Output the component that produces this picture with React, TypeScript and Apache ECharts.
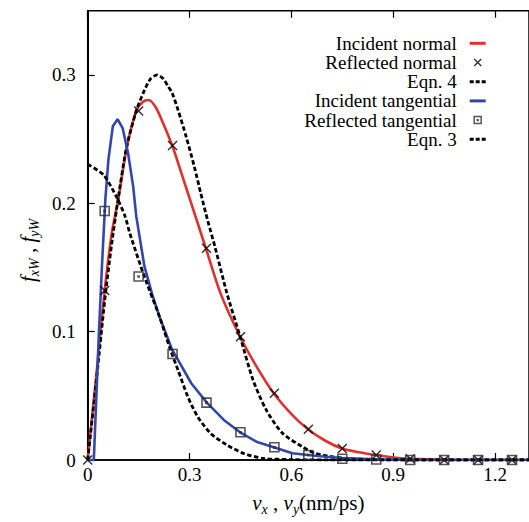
import React, { useEffect, useRef } from 'react';
import * as echarts from 'echarts';

const FONT = "'Liberation Serif', 'DejaVu Serif', serif";
const RED = '#e3302a';
const BLUE = '#3247ad';

const seriesNames = ['Incident normal', 'Reflected normal', 'Eqn. 4', 'Incident tangential', 'Reflected tangential', 'Eqn. 3'];

const X_MIN = 0;
const X_MAX = 1.3;
const X_STEP = 0.3;
const Y_MIN = 0;
const Y_MAX = 0.35;
const Y_STEP = 0.1;

// Incident normal (red line)
const incNormalX = [0, 0.028, 0.05, 0.071, 0.09, 0.114, 0.143, 0.162, 0.18, 0.2, 0.218, 0.249, 0.276, 0.305, 0.348, 0.391, 0.449, 0.497, 0.548, 0.603, 0.649, 0.7, 0.749, 0.8, 0.848, 0.9, 0.95, 1.0, 1.1, 1.2, 1.3];
const incNormalY = [0, 0.073, 0.132, 0.177, 0.203, 0.242, 0.272, 0.279, 0.2805, 0.275, 0.265, 0.245, 0.2235, 0.2, 0.165, 0.13, 0.096, 0.073, 0.052, 0.035, 0.024, 0.015, 0.009, 0.006, 0.0039, 0.002, 0.001, 0.0005, 0, 0, 0];

// Reflected normal (crosses)
const refNormalX = [0, 0.05, 0.15, 0.25, 0.35, 0.45, 0.55, 0.65, 0.75, 0.85, 0.95, 1.05, 1.15, 1.25];
const refNormalY = [0, 0.132, 0.272, 0.245, 0.165, 0.096, 0.052, 0.024, 0.009, 0.0039, 0.001, 0, 0, 0];

// Eqn. 4 (dashed)
const eqn4X = [0, 0.028, 0.05, 0.07, 0.09, 0.114, 0.143, 0.167, 0.185, 0.205, 0.223, 0.237, 0.249, 0.266, 0.29, 0.314, 0.333, 0.353, 0.375, 0.41, 0.449, 0.487, 0.526, 0.574, 0.632, 0.67, 0.75, 0.85, 0.95, 1.3];
const eqn4Y = [0, 0.068, 0.124, 0.167, 0.204, 0.243, 0.272, 0.288, 0.297, 0.3, 0.297, 0.291, 0.2858, 0.2728, 0.252, 0.2286, 0.2079, 0.187, 0.166, 0.13, 0.0961, 0.0624, 0.039, 0.0208, 0.0104, 0.0052, 0.0015, 0.0003, 0, 0];

// Incident tangential (blue line)
const incTangX = [0, 0.018, 0.033, 0.042, 0.052, 0.061, 0.074, 0.088, 0.103, 0.119, 0.134, 0.143, 0.167, 0.19, 0.211, 0.249, 0.266, 0.305, 0.351, 0.401, 0.449, 0.497, 0.548, 0.603, 0.649, 0.7, 0.75, 0.85, 0.95, 1.05, 1.3];
const incTangY = [0, 0, 0.099, 0.151, 0.203, 0.234, 0.26, 0.2655, 0.2585, 0.239, 0.213, 0.19, 0.151, 0.129, 0.112, 0.0857, 0.078, 0.0598, 0.0447, 0.0312, 0.0216, 0.0143, 0.0099, 0.0052, 0.0039, 0.0025, 0.0015, 0.0005, 0.0002, 0, 0];

// Reflected tangential (squares)
const refTangX = [0.05, 0.15, 0.25, 0.35, 0.45, 0.55, 0.65, 0.75, 0.85, 0.95, 1.05, 1.15, 1.25];
const refTangY = [0.194, 0.143, 0.0826, 0.0447, 0.0216, 0.0099, 0.0039, 0.001, 0.0004, 0, 0, 0, 0];

// Eqn. 3 (dashed)
const eqn3X = [0, 0.047, 0.085, 0.11, 0.124, 0.167, 0.211, 0.244, 0.266, 0.295, 0.324, 0.362, 0.41, 0.459, 0.516, 0.6, 0.7, 1.3];
const eqn3Y = [0.2305, 0.222, 0.205, 0.19, 0.1767, 0.1429, 0.112, 0.0857, 0.0701, 0.0493, 0.0337, 0.0208, 0.0117, 0.0052, 0.0013, 0.0003, 0, 0];

const zip = (xs: number[], ys: number[]) => xs.map((x, i) => [x, ys[i]]);

const CROSS = 'path://M0,0L10,10M10,0L0,10';
const SQUARE_DOT = 'path://M0,0H10V10H0ZM4.4,4.4H5.6V5.6H4.4Z';
const SOLID_ICON = 'path://M0,0H16V3H0Z';
const DASH_ICON = 'path://M0,0H4V3H0ZM6,0H10V3H6ZM12,0H16V3H12Z';

export default function App() {
  const ref = useRef<HTMLDivElement>(null);
  useEffect(() => {
    if (!ref.current) return;
    const chart = echarts.init(ref.current, null, { renderer: 'svg' });
    const dashed = [4.5, 2.5];
    const rich = {
      i: { fontFamily: FONT, fontSize: 21, fontStyle: 'italic', color: '#000', lineHeight: 26 },
      t: { fontFamily: FONT, fontSize: 21, color: '#000', lineHeight: 26 },
      s: { fontFamily: FONT, fontSize: 14, fontStyle: 'italic', color: '#000', lineHeight: 14, verticalAlign: 'bottom' },
    };
    const lineLegend = (name: string, icon: string) => ({ name, icon, itemStyle: { borderWidth: 0 } });
    const option: any = {
      animation: false,
      backgroundColor: '#ffffff',
      textStyle: { fontFamily: FONT },
      grid: {
        left: 87.7, right: -9.3, top: 10.8, bottom: 62,
        show: true, borderColor: '#000', borderWidth: 1.5, backgroundColor: 'transparent',
      },
      legend: {
        orient: 'vertical', align: 'right', right: 43.3, top: 33.7, padding: 0, itemGap: 0,
        itemWidth: 16, itemHeight: 7,
        textStyle: { fontFamily: FONT, fontSize: 19, color: '#000', lineHeight: 19.2, padding: [0, 8, 0, 0] },
        data: [
          lineLegend(seriesNames[0], SOLID_ICON),
          { name: seriesNames[1], itemStyle: { borderWidth: 1.5 } },
          lineLegend(seriesNames[2], DASH_ICON),
          lineLegend(seriesNames[3], SOLID_ICON),
          { name: seriesNames[4], itemStyle: { borderWidth: 1.5 } },
          lineLegend(seriesNames[5], DASH_ICON),
        ],
      },
      xAxis: [
        {
          type: 'value', min: X_MIN, max: X_MAX, interval: X_STEP, position: 'bottom',
          axisLine: { lineStyle: { color: '#000', width: 1.5 } },
          axisTick: { inside: true, length: 7, lineStyle: { color: '#000', width: 1.2 } },
          axisLabel: { color: '#000', fontSize: 19, fontFamily: FONT, margin: 5, showMaxLabel: false },
          splitLine: { show: false },
          name: '{i|v}{s|x}{t| , }{i|v}{s|y}{t|(nm/ps)}',
          nameLocation: 'middle', nameGap: 30,
          nameTextStyle: { color: '#000', fontFamily: FONT, fontSize: 20, rich },
        },
        {
          type: 'value', min: X_MIN, max: X_MAX, interval: X_STEP, position: 'top',
          axisLine: { show: false },
          axisTick: { inside: true, length: 7, lineStyle: { color: '#000', width: 1.2 } },
          axisLabel: { show: false },
          splitLine: { show: false },
        },
      ],
      yAxis: {
        type: 'value', min: Y_MIN, max: Y_MAX, interval: Y_STEP,
        axisLine: { show: true, lineStyle: { color: '#000', width: 2 } },
        axisTick: { show: true, inside: true, length: 7, lineStyle: { color: '#000', width: 1.2 } },
        axisLabel: { color: '#000', fontSize: 19, fontFamily: FONT, margin: 12, showMaxLabel: false },
        splitLine: { show: false },
        name: '{i|f}{s|xW}{t| , }{i|f}{s|yW}',
        nameLocation: 'middle', nameGap: 46,
        nameTextStyle: { color: '#000', fontFamily: FONT, fontSize: 20, rich, padding: [0, 30, 0, 0] },
      },
      series: [
        {
          name: seriesNames[0], type: 'line', data: zip(incNormalX, incNormalY), symbol: 'none',
          smooth: 0.25, lineStyle: { color: RED, width: 2.6 }, itemStyle: { color: RED },
        },
        {
          name: seriesNames[1], type: 'scatter', data: zip(refNormalX, refNormalY), symbol: CROSS, symbolSize: 9,
          itemStyle: { color: 'rgba(0,0,0,0)', borderColor: '#000', borderWidth: 1.5 }, z: 4,
        },
        {
          name: seriesNames[2], type: 'line', data: zip(eqn4X, eqn4Y), symbol: 'none',
          smooth: 0.25, lineStyle: { color: '#000', width: 2.8, type: dashed }, itemStyle: { color: '#000' },
        },
        {
          name: seriesNames[3], type: 'line', data: zip(incTangX, incTangY), symbol: 'none',
          smooth: false, lineStyle: { color: BLUE, width: 2.6 }, itemStyle: { color: BLUE },
        },
        {
          name: seriesNames[4], type: 'scatter', data: zip(refTangX, refTangY), symbol: SQUARE_DOT, symbolSize: 9,
          itemStyle: { color: 'rgba(0,0,0,0)', borderColor: '#2a2a2a', borderWidth: 1.6 }, z: 4,
        },
        {
          name: seriesNames[5], type: 'line', data: zip(eqn3X, eqn3Y), symbol: 'none',
          smooth: 0.25, lineStyle: { color: '#000', width: 2.8, type: dashed }, itemStyle: { color: '#000' },
        },
      ],
    };
    chart.setOption(option);
    return () => chart.dispose();
  }, []);
  return <div ref={ref} style={{ position: 'fixed', left: 0, top: 0, width: 529, height: 522, background: '#fff' }} />;
}
